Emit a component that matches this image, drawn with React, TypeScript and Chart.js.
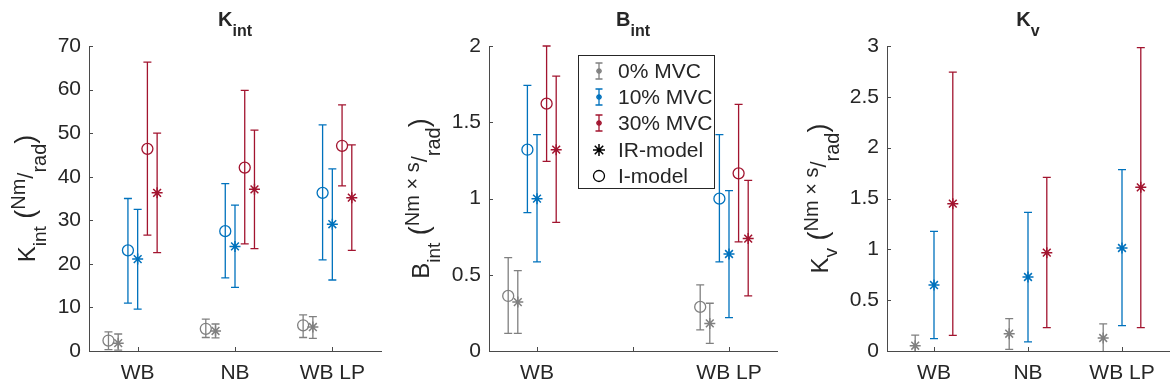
import React, { useEffect, useRef } from "react";
import { Chart, registerables } from "chart.js";
Chart.register(...registerables);

const FONT = "'Liberation Sans', Arial, Helvetica, sans-serif";
const TEXT = "#262626";
const AXIS = "#4a4a4a";
const GRAY = "#808080";
const BLUE = "#0072BD";
const RED = "#A2142F";

// ---------- categories & tick labels ----------
const catsKint = ["WB", "NB", "WB LP"];
const catsBint = ["WB", "", "WB LP"];
const catsKv = ["WB", "NB", "WB LP"];
const ticksKint = [0, 10, 20, 30, 40, 50, 60, 70];
const ticksBint = [0, 0.5, 1, 1.5, 2];
const ticksKv = [0, 0.5, 1, 1.5, 2, 2.5, 3];

// ---------- K_int ----------
const kintI0 = [2.4, 5.1, 5.9];
const kintI0Lo = [0.3, 3.1, 3.1];
const kintI0Hi = [4.4, 7.3, 8.3];
const kintIR0 = [1.8, 4.6, 5.5];
const kintIR0Lo = [0.2, 3.0, 2.9];
const kintIR0Hi = [3.9, 6.2, 7.9];
const kintI10 = [23.1, 27.5, 36.3];
const kintI10Lo = [11.0, 16.8, 20.9];
const kintI10Hi = [35.0, 38.4, 51.9];
const kintIR10 = [21.1, 24.0, 29.1];
const kintIR10Lo = [9.6, 14.6, 16.3];
const kintIR10Hi = [32.5, 33.5, 41.8];
const kintI30 = [46.4, 42.1, 47.1];
const kintI30Lo = [26.6, 24.6, 37.9];
const kintI30Hi = [66.3, 59.8, 56.5];
const kintIR30 = [36.3, 37.1, 35.2];
const kintIR30Lo = [22.6, 23.5, 23.1];
const kintIR30Hi = [50.0, 50.7, 47.3];

// ---------- B_int (no NB group) ----------
const bintI0 = [0.361, null, 0.289];
const bintI0Lo = [0.116, null, 0.138];
const bintI0Hi = [0.612, null, 0.433];
const bintIR0 = [0.321, null, 0.181];
const bintIR0Lo = [0.116, null, 0.05];
const bintIR0Hi = [0.527, null, 0.313];
const bintI10 = [1.32, null, 0.999];
const bintI10Lo = [0.907, null, 0.584];
const bintI10Hi = [1.742, null, 1.419];
const bintIR10 = [0.999, null, 0.636];
const bintIR10Lo = [0.584, null, 0.219];
const bintIR10Hi = [1.419, null, 1.051];
const bintI30 = [1.622, null, 1.165];
const bintI30Lo = [1.244, null, 0.715];
const bintI30Hi = [2.0, null, 1.617];
const bintIR30 = [1.32, null, 0.737];
const bintIR30Lo = [0.844, null, 0.361];
const bintIR30Hi = [1.803, null, 1.119];

// ---------- K_v (IR-model only) ----------
const kvIR0 = [0.052, 0.17, 0.128];
const kvIR0Lo = [-0.01, 0.016, -0.01];
const kvIR0Hi = [0.157, 0.318, 0.266];
const kvIR10 = [0.649, 0.728, 1.013];
const kvIR10Lo = [0.121, 0.089, 0.249];
const kvIR10Hi = [1.177, 1.364, 1.784];
const kvIR30 = [1.449, 0.967, 1.61];
const kvIR30Lo = [0.154, 0.23, 0.23];
const kvIR30Hi = [2.744, 1.708, 2.984];

type Seg = { t: string; size: number; dy?: number; bold?: boolean };

function drawRich(ctx: CanvasRenderingContext2D, segs: Seg[], x: number, y: number) {
  ctx.textAlign = "left";
  ctx.textBaseline = "alphabetic";
  const widths = segs.map((s) => {
    ctx.font = `${s.bold ? "bold " : ""}${s.size}px ${FONT}`;
    return ctx.measureText(s.t).width;
  });
  const total = widths.reduce((a, b) => a + b, 0);
  let cx = x - total / 2;
  segs.forEach((s, i) => {
    ctx.font = `${s.bold ? "bold " : ""}${s.size}px ${FONT}`;
    ctx.fillText(s.t, cx, y + (s.dy || 0));
    cx += widths[i];
  });
}

function series(label: string, color: string, model: "I" | "IR", offset: number, mean: (number | null)[], lo: (number | null)[], hi: (number | null)[]) {
  const data: any[] = [];
  mean.forEach((v, i) => {
    if (v == null) return;
    data.push({ x: i + 1 + offset, y: v, lo: lo[i], hi: hi[i] });
  });
  return {
    label,
    data,
    borderColor: color,
    backgroundColor: "rgba(0,0,0,0)",
    pointStyle: model === "I" ? "circle" : "star",
    pointRadius: 5.5,
    pointBorderWidth: model === "I" ? 1.3 : 1.5,
    pointHoverRadius: 0,
    showLine: false,
  };
}

const errorBarPlugin = {
  id: "errorBars",
  beforeDatasetsDraw(chart: any) {
    const { ctx, chartArea, scales } = chart;
    ctx.save();
    ctx.beginPath();
    ctx.rect(chartArea.left - 10, chartArea.top - 3, chartArea.right - chartArea.left + 20, chartArea.bottom - chartArea.top + 3);
    ctx.clip();
    chart.data.datasets.forEach((ds: any) => {
      ctx.strokeStyle = ds.borderColor;
      ctx.lineWidth = 1.3;
      ds.data.forEach((p: any) => {
        const x = scales.x.getPixelForValue(p.x);
        const yl = scales.y.getPixelForValue(p.lo);
        const yh = scales.y.getPixelForValue(p.hi);
        ctx.beginPath();
        ctx.moveTo(x, yl);
        ctx.lineTo(x, yh);
        ctx.moveTo(x - 4, yl);
        ctx.lineTo(x + 4, yl);
        ctx.moveTo(x - 4, yh);
        ctx.lineTo(x + 4, yh);
        ctx.stroke();
      });
    });
    ctx.restore();
  },
};

function drawStar(ctx: CanvasRenderingContext2D, x: number, y: number, r: number) {
  ctx.beginPath();
  for (let k = 0; k < 4; k++) {
    const a = (k * Math.PI) / 4;
    ctx.moveTo(x + r * Math.cos(a), y + r * Math.sin(a));
    ctx.lineTo(x - r * Math.cos(a), y - r * Math.sin(a));
  }
  ctx.stroke();
}

const decorPlugin = {
  id: "decor",
  afterDraw(chart: any, _args: any, opts: any) {
    const { ctx, chartArea, scales } = chart;
    ctx.save();
    // inward ticks
    ctx.strokeStyle = AXIS;
    ctx.lineWidth = 1;
    ctx.beginPath();
    scales.y.ticks.forEach((t: any) => {
      const y = Math.round(scales.y.getPixelForValue(t.value)) + 0.5;
      ctx.moveTo(chartArea.left, y);
      ctx.lineTo(chartArea.left + 4, y);
    });
    scales.x.ticks.forEach((t: any) => {
      const x = Math.round(scales.x.getPixelForValue(t.value)) + 0.5;
      ctx.moveTo(x, chartArea.bottom);
      ctx.lineTo(x, chartArea.bottom - 4);
    });
    ctx.stroke();

    ctx.fillStyle = TEXT;
    // title
    drawRich(ctx, opts.title, (chartArea.left + chartArea.right) / 2, 26);
    // y label
    ctx.save();
    ctx.translate(opts.ylabelX, (chartArea.top + chartArea.bottom) / 2);
    ctx.rotate(-Math.PI / 2);
    drawRich(ctx, opts.ylabel, 0, 0);
    ctx.restore();

    if (opts.legend) {
      const lx = 186, ly = 55, lw = 136, lh = 133;
      ctx.fillStyle = "#ffffff";
      ctx.fillRect(lx, ly, lw, lh);
      ctx.strokeStyle = "#262626";
      ctx.lineWidth = 1;
      ctx.strokeRect(lx + 0.5, ly + 0.5, lw, lh);
      const ix = 207;
      const tx = 226;
      const rows = [71, 97, 123, 150, 176];
      const items = opts.legend as { label: string; color: string; kind: string }[];
      items.forEach((it, i) => {
        const y = rows[i];
        ctx.strokeStyle = it.color;
        if (it.kind === "err") {
          ctx.lineWidth = 1.3;
          ctx.beginPath();
          ctx.moveTo(ix, y - 8);
          ctx.lineTo(ix, y + 8);
          ctx.moveTo(ix - 3.5, y - 8);
          ctx.lineTo(ix + 3.5, y - 8);
          ctx.moveTo(ix - 3.5, y + 8);
          ctx.lineTo(ix + 3.5, y + 8);
          ctx.stroke();
          drawStar(ctx, ix, y, 3);
        } else if (it.kind === "star") {
          ctx.lineWidth = 1.5;
          drawStar(ctx, ix, y, 6);
        } else {
          ctx.lineWidth = 1.3;
          ctx.beginPath();
          ctx.arc(ix, y, 5.5, 0, Math.PI * 2);
          ctx.stroke();
        }
        ctx.fillStyle = TEXT;
        ctx.font = `21px ${FONT}`;
        ctx.textAlign = "left";
        ctx.textBaseline = "middle";
        ctx.fillText(it.label, tx, y + 1);
      });
    }
    ctx.restore();
  },
};

type PanelDef = {
  datasets: any[];
  cats: string[];
  yticks: number[];
  ymax: number;
  left: number;
  right: number;
  title: Seg[];
  ylabel: Seg[];
  ylabelX: number;
  legend?: any[];
};

const unitSup = (num: string): Seg[] => [
  { t: " (", size: 27, dy: -1 },
  { t: num, size: 20, dy: -10 },
  { t: "/", size: 22, dy: -2 },
  { t: "rad", size: 20, dy: 11 },
  { t: ")", size: 27, dy: -1 },
];

const titleSegs = (main: string, sub: string): Seg[] => [
  { t: main, size: 20, bold: true },
  { t: sub, size: 16, bold: true, dy: 10 },
];

const panels: PanelDef[] = [
  {
    datasets: [
      series("0% I", GRAY, "I", -0.3, kintI0, kintI0Lo, kintI0Hi),
      series("0% IR", GRAY, "IR", -0.2, kintIR0, kintIR0Lo, kintIR0Hi),
      series("10% I", BLUE, "I", -0.1, kintI10, kintI10Lo, kintI10Hi),
      series("10% IR", BLUE, "IR", 0, kintIR10, kintIR10Lo, kintIR10Hi),
      series("30% I", RED, "I", 0.1, kintI30, kintI30Lo, kintI30Hi),
      series("30% IR", RED, "IR", 0.2, kintIR30, kintIR30Lo, kintIR30Hi),
    ],
    cats: catsKint,
    yticks: ticksKint,
    ymax: 70,
    left: 89,
    right: 11,
    title: titleSegs("K", "int"),
    ylabel: [{ t: "K", size: 24 }, { t: "int", size: 19, dy: 11 }, ...unitSup("Nm")],
    ylabelX: 35,
  },
  {
    datasets: [
      series("0% I", GRAY, "I", -0.3, bintI0, bintI0Lo, bintI0Hi),
      series("0% IR", GRAY, "IR", -0.2, bintIR0, bintIR0Lo, bintIR0Hi),
      series("10% I", BLUE, "I", -0.1, bintI10, bintI10Lo, bintI10Hi),
      series("10% IR", BLUE, "IR", 0, bintIR10, bintIR10Lo, bintIR10Hi),
      series("30% I", RED, "I", 0.1, bintI30, bintI30Lo, bintI30Hi),
      series("30% IR", RED, "IR", 0.2, bintIR30, bintIR30Lo, bintIR30Hi),
    ],
    cats: catsBint,
    yticks: ticksBint,
    ymax: 2,
    left: 97,
    right: 5,
    title: titleSegs("B", "int"),
    ylabel: [{ t: "B", size: 24 }, { t: "int", size: 19, dy: 11 }, ...unitSup("Nm × s")],
    ylabelX: 37,
    legend: [
      { label: "0% MVC", color: GRAY, kind: "err" },
      { label: "10% MVC", color: BLUE, kind: "err" },
      { label: "30% MVC", color: RED, kind: "err" },
      { label: "IR-model", color: "#000000", kind: "star" },
      { label: "I-model", color: "#000000", kind: "circle" },
    ],
  },
  {
    datasets: [
      series("0% IR", GRAY, "IR", -0.2, kvIR0, kvIR0Lo, kvIR0Hi),
      series("10% IR", BLUE, "IR", 0, kvIR10, kvIR10Lo, kvIR10Hi),
      series("30% IR", RED, "IR", 0.2, kvIR30, kvIR30Lo, kvIR30Hi),
    ],
    cats: catsKv,
    yticks: ticksKv,
    ymax: 3,
    left: 103,
    right: 1,
    title: titleSegs("K", "v"),
    ylabel: [{ t: "K", size: 24 }, { t: "v", size: 19, dy: 9 }, ...unitSup("Nm × s")],
    ylabelX: 44,
  },
];

function Panel({ def, x }: { def: PanelDef; x: number }) {
  const ref = useRef<HTMLCanvasElement | null>(null);
  useEffect(() => {
    if (!ref.current) return;
    const tickFont = { family: FONT, size: 21 };
    const chart = new Chart(ref.current, {
      type: "scatter",
      data: { datasets: def.datasets },
      plugins: [errorBarPlugin, decorPlugin],
      options: {
        responsive: false,
        animation: false,
        events: [],
        layout: { padding: { top: 46, right: def.right, left: 0, bottom: 0 } },
        plugins: {
          legend: { display: false },
          title: { display: false },
          tooltip: { enabled: false },
          decor: { title: def.title, ylabel: def.ylabel, ylabelX: def.ylabelX, legend: def.legend },
        } as any,
        scales: {
          x: {
            type: "linear",
            min: 0.5,
            max: 3.5,
            afterBuildTicks: (s: any) => {
              s.ticks = [1, 2, 3].map((v) => ({ value: v }));
            },
            afterFit: (s: any) => {
              s.height = 41;
            },
            ticks: {
              callback: (v: any) => def.cats[Math.round(Number(v)) - 1] ?? "",
              font: tickFont,
              color: TEXT,
              padding: 10,
              maxRotation: 0,
              autoSkip: false,
            },
            grid: { display: false, drawTicks: false },
            border: { display: true, color: AXIS, width: 1 },
          },
          y: {
            type: "linear",
            min: 0,
            max: def.ymax,
            afterBuildTicks: (s: any) => {
              s.ticks = def.yticks.map((v) => ({ value: v }));
            },
            afterFit: (s: any) => {
              s.width = def.left;
            },
            ticks: {
              callback: (v: any) => String(v),
              font: tickFont,
              color: TEXT,
              padding: 8,
              autoSkip: false,
            },
            grid: { display: false, drawTicks: false },
            border: { display: true, color: AXIS, width: 1 },
          },
        },
      } as any,
    });
    return () => chart.destroy();
  }, [def]);
  return (
    <canvas
      ref={ref}
      width={392}
      height={392}
      style={{ position: "absolute", left: x, top: 0, width: 392, height: 392 }}
    />
  );
}

export default function App() {
  return (
    <div style={{ position: "fixed", left: 0, top: 0, width: 1176, height: 392, background: "#ffffff", overflow: "hidden" }}>
      {panels.map((p, i) => (
        <Panel key={i} def={p} x={i * 392} />
      ))}
    </div>
  );
}
